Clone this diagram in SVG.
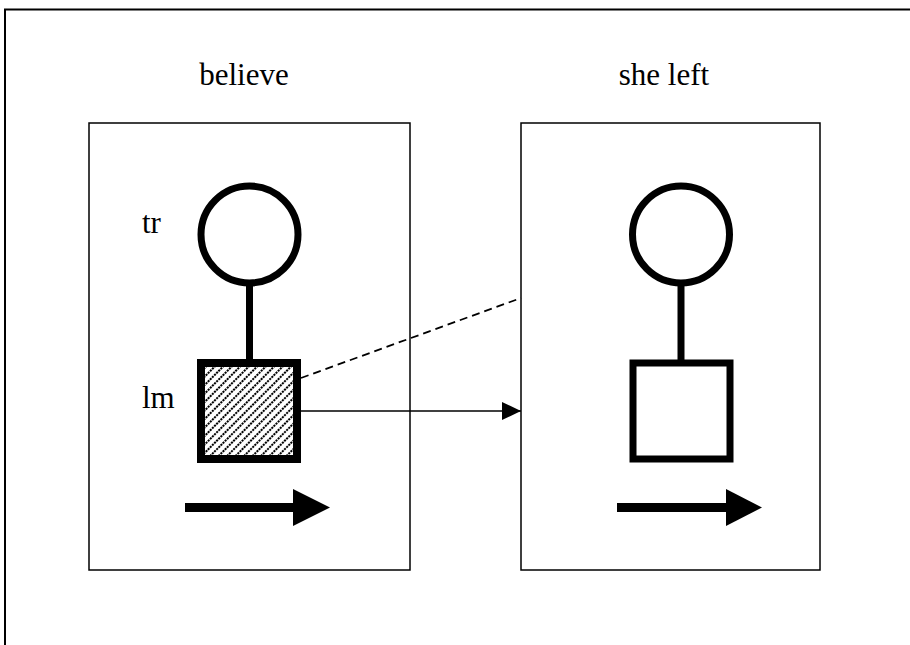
<svg xmlns="http://www.w3.org/2000/svg" width="910" height="645" viewBox="0 0 910 645">
<style>
text{font-family:"Liberation Serif","Times New Roman",serif;font-size:31px;fill:#000}
.box{fill:none;stroke:#000;stroke-width:1.5}
.thick{fill:none;stroke:#000;stroke-width:7}
.stem{stroke:#000;stroke-width:7}
.shaft{stroke:#000;stroke-width:9}
</style>
<defs>
<pattern id="hatch" patternUnits="userSpaceOnUse" width="6" height="6" patternTransform="rotate(-45)">
<rect width="6" height="6" fill="#fff"/>
<line x1="0" y1="3" x2="6" y2="3" stroke="#000" stroke-width="2.2" stroke-dasharray="2.1 0.9"/>
</pattern>
<marker id="ah" viewBox="0 0 10 10" refX="10" refY="5" markerWidth="19" markerHeight="18" markerUnits="userSpaceOnUse" orient="auto" preserveAspectRatio="none">
<path d="M0,0 L10,5 L0,10 Z" fill="#000"/>
</marker>
</defs>
<g id="frame">
<path d="M5,645 L5,9.5 L910,9.5" fill="none" stroke="#000" stroke-width="2"/>
</g>
<g id="believe">
<text x="244" y="85" text-anchor="middle">believe</text>
<rect class="box" x="89" y="123" width="321" height="447"/>
<text x="142" y="233">tr</text>
<text x="142" y="408">lm</text>
<circle class="thick" cx="249.5" cy="234.5" r="48.5"/>
<line class="stem" x1="249.5" y1="283" x2="249.5" y2="363"/>
<rect x="201" y="363" width="96" height="96" fill="url(#hatch)" stroke="#000" stroke-width="8"/>
<line class="shaft" x1="185" y1="507.5" x2="296" y2="507.5"/>
<path d="M293,489 L330,507.5 L293,526 Z" fill="#000"/>
</g>
<g id="she-left">
<text x="664" y="85" text-anchor="middle">she left</text>
<rect class="box" x="521" y="123" width="299" height="447"/>
<circle class="thick" cx="681" cy="234.5" r="48.5"/>
<line class="stem" x1="681" y1="283" x2="681" y2="363"/>
<rect class="thick" x="633" y="363" width="97" height="96" stroke-width="8"/>
<line class="shaft" x1="617" y1="507.5" x2="728" y2="507.5"/>
<path d="M726,489 L762,507.5 L726,526 Z" fill="#000"/>
</g>
<g id="connectors">
<line x1="301" y1="378" x2="521" y2="298" stroke="#000" stroke-width="1.8" stroke-dasharray="8 5"/>
<line x1="301" y1="411" x2="521" y2="411" stroke="#000" stroke-width="1.5" marker-end="url(#ah)"/>
</g>
</svg>
